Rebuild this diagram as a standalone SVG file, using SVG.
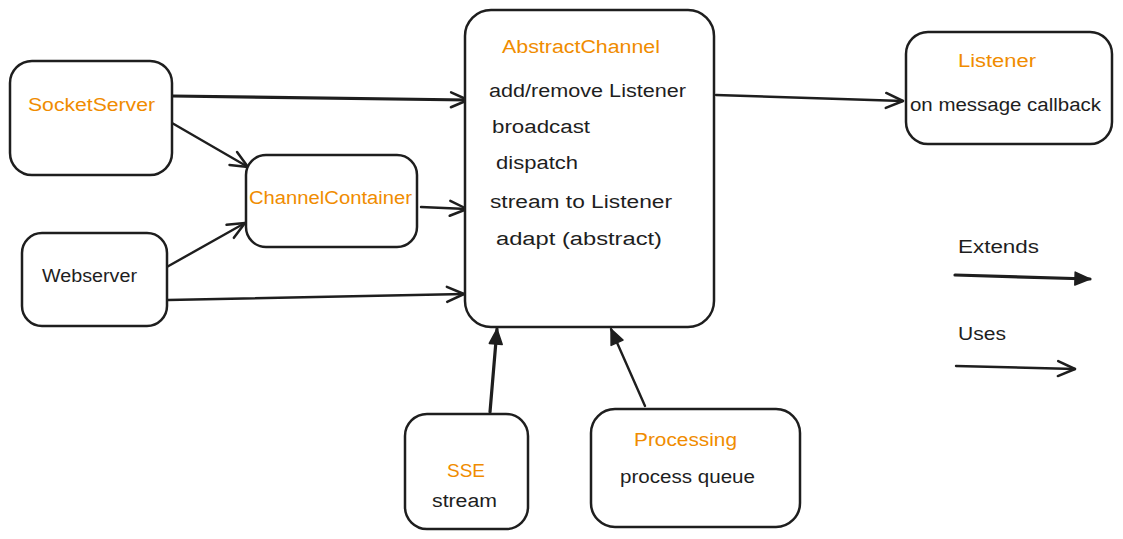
<svg xmlns="http://www.w3.org/2000/svg" width="1123" height="539" viewBox="0 0 1123 539">
  <defs>
    <style>
      .box { fill: #ffffff; stroke: #1e1e1e; stroke-width: 2.5; }
      .t { font-family: "Liberation Sans", "DejaVu Sans", sans-serif; font-size: 18px; fill: #1e1e1e; }
      .o { fill: #f08c00; }
      .c { fill: none; stroke: #1e1e1e; stroke-width: 2.4; stroke-linecap: round; }
      .thick { stroke-width: 3.2; }
    </style>
    <marker id="open" markerUnits="userSpaceOnUse" viewBox="-20 -10 22 20" refX="0" refY="0" markerWidth="22" markerHeight="20" orient="auto" overflow="visible">
      <path d="M-17,-7.5 L0,0 L-17,7.5" fill="none" stroke="#1e1e1e" stroke-width="2.5" stroke-linecap="round" stroke-linejoin="round"/>
    </marker>
    <marker id="fill" markerUnits="userSpaceOnUse" viewBox="-20 -10 22 20" refX="0" refY="0" markerWidth="22" markerHeight="20" orient="auto" overflow="visible">
      <path d="M-15,-6.5 L0,0 L-15,6.5 Z" fill="#1e1e1e" stroke="#1e1e1e" stroke-width="1.5" stroke-linejoin="round"/>
    </marker>
  </defs>
  <rect width="1123" height="539" fill="#ffffff"/>

  <g id="connectors">
    <path class="c thick" d="M172,96 L468,100" marker-end="url(#open)"/>
    <path class="c" d="M172,123 L248,167" marker-end="url(#open)"/>
    <path class="c" d="M165,268 L245,223" marker-end="url(#open)"/>
    <path class="c" d="M421,207 L467,209" marker-end="url(#open)"/>
    <path class="c" d="M168,300 L464,294" marker-end="url(#open)"/>
    <path class="c" d="M716,95 L903,101" marker-end="url(#open)"/>
    <path class="c thick" d="M490,412 L497,329" marker-end="url(#fill)"/>
    <path class="c" d="M645,406 L611,329" marker-end="url(#fill)"/>
    <path class="c thick" d="M955,275 L1090,279" marker-end="url(#fill)"/>
    <path class="c" d="M956,366 L1075,369" marker-end="url(#open)"/>
  </g>

  <g id="socketserver">
    <rect class="box" x="10" y="61" width="162" height="114" rx="22"/>
    <text class="t o" x="28" y="111" textLength="127" lengthAdjust="spacingAndGlyphs">SocketServer</text>
  </g>

  <g id="channelcontainer">
    <rect class="box" x="246" y="155" width="171" height="92" rx="20"/>
    <text class="t o" x="249" y="204" textLength="163" lengthAdjust="spacingAndGlyphs">ChannelContainer</text>
  </g>

  <g id="webserver">
    <rect class="box" x="22" y="233" width="145" height="93" rx="20"/>
    <text class="t" x="42" y="282" textLength="95" lengthAdjust="spacingAndGlyphs">Webserver</text>
  </g>

  <g id="abstractchannel">
    <rect class="box" x="465" y="10" width="249" height="317" rx="26"/>
    <text class="t o" x="502" y="53" textLength="158" lengthAdjust="spacingAndGlyphs">AbstractChannel</text>
    <text class="t" x="489" y="97" textLength="197" lengthAdjust="spacingAndGlyphs">add/remove Listener</text>
    <text class="t" x="492" y="133" textLength="98" lengthAdjust="spacingAndGlyphs">broadcast</text>
    <text class="t" x="496" y="169" textLength="82" lengthAdjust="spacingAndGlyphs">dispatch</text>
    <text class="t" x="490" y="208" textLength="182" lengthAdjust="spacingAndGlyphs">stream to Listener</text>
    <text class="t" x="496" y="245" textLength="166" lengthAdjust="spacingAndGlyphs">adapt (abstract)</text>
  </g>

  <g id="listener">
    <rect class="box" x="906" y="32" width="206" height="112" rx="22"/>
    <text class="t o" x="958" y="67" textLength="78" lengthAdjust="spacingAndGlyphs">Listener</text>
    <text class="t" x="910" y="111" textLength="191" lengthAdjust="spacingAndGlyphs">on message callback</text>
  </g>

  <g id="sse">
    <rect class="box" x="405" y="414" width="123" height="115" rx="22"/>
    <text class="t o" x="447" y="477" textLength="38" lengthAdjust="spacingAndGlyphs">SSE</text>
    <text class="t" x="432" y="507" textLength="65" lengthAdjust="spacingAndGlyphs">stream</text>
  </g>

  <g id="processing">
    <rect class="box" x="591" y="409" width="209" height="118" rx="24"/>
    <text class="t o" x="634" y="446" textLength="103" lengthAdjust="spacingAndGlyphs">Processing</text>
    <text class="t" x="620" y="483" textLength="135" lengthAdjust="spacingAndGlyphs">process queue</text>
  </g>

  <g id="legend">
    <text class="t" x="958" y="253" textLength="81" lengthAdjust="spacingAndGlyphs">Extends</text>
    <text class="t" x="958" y="340" textLength="48" lengthAdjust="spacingAndGlyphs">Uses</text>
  </g>
</svg>
